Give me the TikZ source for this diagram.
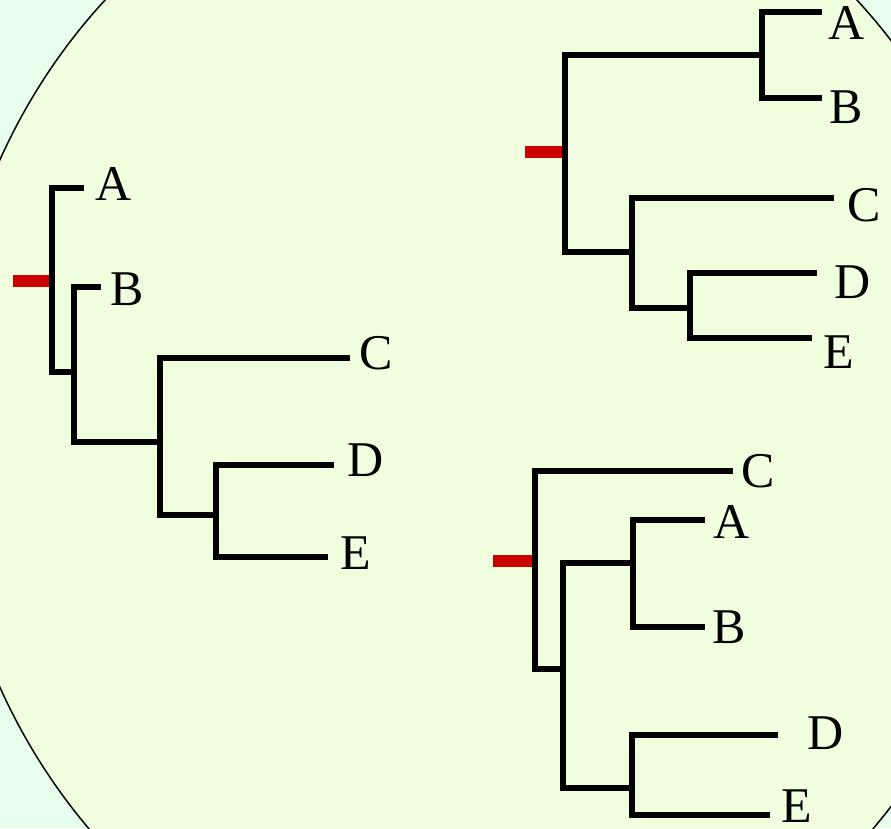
\documentclass[tikz,border=0pt]{standalone}
\usepackage{fontspec}
\setmainfont{Liberation Serif}
\definecolor{outerbg}{RGB}{232,255,238}
\definecolor{innerbg}{RGB}{240,255,222}
\definecolor{tickred}{RGB}{204,0,0}
\tikzset{
  branch/.style={line width=6pt, line join=miter},
  roottick/.style={tickred, line width=12pt},
  taxon/.style={inner sep=0pt, font=\fontsize{50}{50}\selectfont},
}
\begin{document}
\begin{tikzpicture}[x=1pt,y=-1pt]
\useasboundingbox (0,0) rectangle (891,828);
\fill[outerbg] (0,0) rectangle (891,828);
\begin{scope}
\clip (0,0) rectangle (891,828);
\draw[fill=innerbg, line width=1.5pt] (481,423.5) ellipse [x radius=537pt, y radius=593pt];
\end{scope}

% ---------- Tree 1 (left) ----------
\coordinate (r1) at (52,281);
\coordinate (a1) at (84,188);
\coordinate (n12) at (74,372);
\coordinate (b1) at (101,287);
\coordinate (n13) at (160,442);
\coordinate (c1) at (350,358);
\coordinate (n14) at (216,515);
\coordinate (d1) at (334,465);
\coordinate (e1) at (328,557);
\draw[roottick] (13,281) -- (r1);
\draw[branch] (a1) -| (r1) |- (n12);
\draw[branch] (b1) -| (n12) |- (n13);
\draw[branch] (c1) -| (n13) |- (n14);
\draw[branch] (d1) -| (n14) |- (e1);
\node[taxon] (A1) at (114,184) {A};
\node[taxon] (B1) at (127,289) {B};
\node[taxon] (C1) at (376,353) {C};
\node[taxon] (D1) at (366,460) {D};
\node[taxon] (E1) at (356,553) {E};

% ---------- Tree 2 (top right) ----------
\coordinate (r2) at (565,152);
\coordinate (p2) at (762,55);
\coordinate (q2) at (632,252);
\coordinate (s2) at (690,308);
\coordinate (a2) at (822,12);
\coordinate (b2) at (822,98);
\coordinate (c2) at (834,198);
\coordinate (d2) at (817,273);
\coordinate (e2) at (812,338);
\draw[roottick] (525,152) -- (r2);
\draw[branch] (p2) -| (r2) |- (q2);
\draw[branch] (a2) -| (p2) |- (b2);
\draw[branch] (c2) -| (q2) |- (s2);
\draw[branch] (d2) -| (s2) |- (e2);
\node[taxon] (A2) at (847,23) {A};
\node[taxon] (B2) at (846,107) {B};
\node[taxon] (C2) at (864,205) {C};
\node[taxon] (D2) at (853,282) {D};
\node[taxon] (E2) at (839,352) {E};

% ---------- Tree 3 (bottom right) ----------
\coordinate (r3) at (535,561);
\coordinate (u3) at (563,669);
\coordinate (v3) at (633,563);
\coordinate (w3) at (632,788);
\coordinate (c3) at (733,471);
\coordinate (a3) at (705,520);
\coordinate (b3) at (705,627);
\coordinate (d3) at (778,735);
\coordinate (e3) at (770,815);
\draw[roottick] (493,561) -- (r3);
\draw[branch] (c3) -| (r3) |- (u3);
\draw[branch] (v3) -| (u3) |- (w3);
\draw[branch] (a3) -| (v3) |- (b3);
\draw[branch] (d3) -| (w3) |- (e3);
\node[taxon] (C3) at (758,471) {C};
\node[taxon] (A3) at (732,522) {A};
\node[taxon] (B3) at (729,627) {B};
\node[taxon] (D3) at (826,733) {D};
\node[taxon] (E3) at (797,806) {E};
\end{tikzpicture}
\end{document}
